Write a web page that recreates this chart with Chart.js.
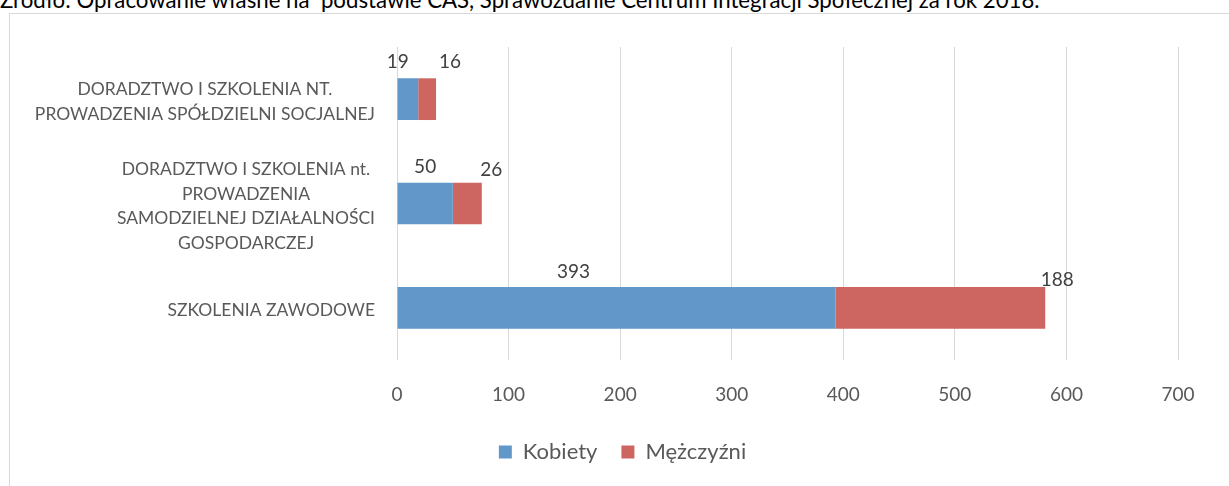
<!DOCTYPE html>
<html><head><meta charset="utf-8">
<script src="https://cdn.jsdelivr.net/npm/chart.js@4.4.1/dist/chart.umd.min.js"></script>
<style>
html,body{margin:0;padding:0;background:#fff;width:1229px;height:486px;overflow:hidden;}
#src{position:absolute;left:0;top:-10px;font-family:Lato;font-size:18px;line-height:20px;color:#000;white-space:pre;}
#frame{position:absolute;left:9px;top:13px;width:1300px;height:600px;border:1px solid #d9d9d9;box-sizing:border-box;}
#wrap{position:absolute;left:0;top:0;width:1229px;height:486px;}
</style></head><body>
<div id="src">Źródło: Opracowanie własne na  podstawie CAS, Sprawozdanie Centrum Integracji Społecznej za rok 2018.</div>
<div id="frame"></div>
<div id="wrap"><canvas id="c" width="1229" height="486"></canvas></div>
<script>
// ---- data ----
const categories = [
  ["DORADZTWO I SZKOLENIA NT.", "PROWADZENIA SPÓŁDZIELNI SOCJALNEJ"],
  ["DORADZTWO I SZKOLENIA nt.", "PROWADZENIA", "SAMODZIELNEJ DZIAŁALNOŚCI", "GOSPODARCZEJ"],
  ["SZKOLENIA ZAWODOWE"]
];
const seriesNames = ["Kobiety", "Mężczyźni"];
const kobiety = [19, 50, 393];
const mezczyzni = [16, 26, 188];
const xTicks = [0, 100, 200, 300, 400, 500, 600, 700];

// ---- styling (label nudges in px, relative to bar centre / bar top) ----
const labelNudges = [
  [[-10, -16], [0, -16], [-43, -15]],
  [[23, -16], [24, -13], [117, -7]]
];
const colors = ["#6297c9", "#cd6660"];
const FONT = "Lato";
const PAD_LEFT = 67;

const yLabelPlugin = {
  id: 'yLabels',
  afterDraw(chart) {
    const ctx = chart.ctx, y = chart.scales.y;
    ctx.save();
    ctx.font = "17.5px " + FONT;
    ctx.fillStyle = "#595959";
    ctx.textAlign = "center";
    ctx.textBaseline = "middle";
    const right = 375, lh = 24.7;
    chart.data.labels.forEach((lines, i) => {
      const w = Math.max(...lines.map(l => ctx.measureText(l).width));
      const cx = right - w / 2;
      const cy = y.getPixelForValue(i) + 3;
      lines.forEach((l, k) => {
        ctx.fillText(l, cx, cy + (k - (lines.length - 1) / 2) * lh);
      });
    });
    ctx.restore();
  }
};

const dataLabelPlugin = {
  id: 'dataLabels',
  afterDatasetsDraw(chart) {
    const ctx = chart.ctx;
    ctx.save();
    ctx.font = "19px " + FONT;
    ctx.fillStyle = "#404040";
    ctx.textAlign = "center";
    ctx.textBaseline = "middle";
    chart.data.datasets.forEach((ds, di) => {
      chart.getDatasetMeta(di).data.forEach((el, i) => {
        const cx = (el.x + el.base) / 2;
        const top = el.y - el.height / 2;
        const n = labelNudges[di][i];
        ctx.fillText(String(ds.data[i]), cx + n[0], top + n[1]);
      });
    });
    ctx.restore();
  }
};

function fitSource() {
  const el = document.getElementById('src');
  const w = el.getBoundingClientRect().width;
  el.style.fontSize = (18 * 1040 / w) + "px";
}

function build() {
  fitSource();
  new Chart(document.getElementById('c'), {
    type: 'bar',
    data: {
      labels: categories,
      datasets: [
        { label: seriesNames[0], data: kobiety, backgroundColor: colors[0], borderWidth: 0 },
        { label: seriesNames[1], data: mezczyzni, backgroundColor: colors[1], borderWidth: 0 }
      ]
    },
    options: {
      indexAxis: 'y',
      responsive: false,
      animation: false,
      devicePixelRatio: 1,
      categoryPercentage: 1,
      barPercentage: 0.4,
      layout: { padding: { top: 47, right: 51, bottom: 13, left: PAD_LEFT } },
      scales: {
        x: {
          stacked: true, min: 0, max: 700,
          afterBuildTicks: s => { s.ticks = xTicks.map(v => ({ value: v })); },
          afterFit: s => { s.height = 57; },
          grid: { color: "#d9d9d9", lineWidth: 1, drawTicks: false },
          border: { display: false },
          ticks: { padding: 23, color: "#595959", font: { family: FONT, size: 19 } }
        },
        y: {
          stacked: true,
          afterFit: s => { s.width = 397 - PAD_LEFT; },
          grid: { display: false },
          border: { display: false },
          ticks: { display: false }
        }
      },
      plugins: {
        legend: {
          position: 'bottom',
          labels: {
            boxWidth: 13, boxHeight: 13, padding: 24,
            color: "#595959", font: { family: FONT, size: 22 }
          }
        },
        tooltip: { enabled: false }
      }
    },
    plugins: [yLabelPlugin, dataLabelPlugin]
  });
}
if (document.fonts && document.fonts.load) {
  Promise.all([document.fonts.load("19px Lato"), document.fonts.load("22px Lato")]).then(build, build);
} else build();
</script>
</body></html>
